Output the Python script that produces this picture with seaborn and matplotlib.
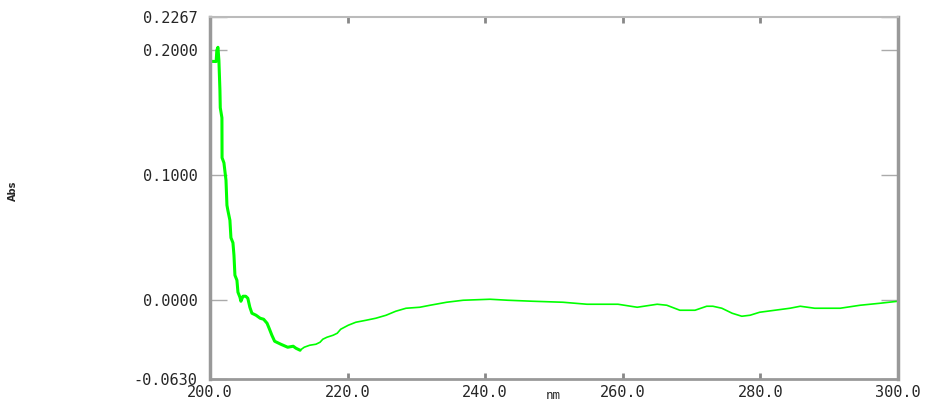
import numpy as np
import pandas as pd
import matplotlib
matplotlib.use("Agg")
import matplotlib.pyplot as plt
import seaborn as sns

# spectrum (wavelength in nm, absorbance)
wavelength = [200.0, 200.9, 201.0, 201.16, 201.3, 201.45, 201.5, 201.74, 201.76, 202.03,
              202.33, 202.47, 202.6, 202.9, 203.05, 203.34, 203.49, 203.63, 203.92, 204.07,
              204.36, 204.5, 204.8, 205.2, 205.5, 205.8, 206.1, 206.7, 207.3, 207.8,
              208.3, 208.6, 209.0, 209.4, 210.3, 211.3, 212.1, 212.5, 213.1, 213.7,
              214.5, 215.4, 216.0, 216.4, 217.0, 217.9, 218.5, 219.0, 220.1, 221.2,
              222.7, 224.1, 225.6, 227.0, 228.5, 230.5, 232.0, 234.4, 236.8, 240.7,
              243.3, 246.9, 251.3, 254.8, 259.3, 262.1, 265.0, 266.4, 268.3, 270.5,
              272.2, 273.1, 274.4, 275.9, 277.3, 278.5, 279.9, 282.1, 284.3, 285.8,
              287.9, 291.6, 294.5, 297.4, 300.0]
absorbance = [0.1912, 0.1910, 0.2000, 0.2024, 0.1920, 0.1680, 0.1540, 0.1460, 0.1140, 0.1100,
              0.0960, 0.0760, 0.0720, 0.0640, 0.0500, 0.0460, 0.0360, 0.0200, 0.0160, 0.0064,
              0.0024, -0.0008, 0.0032, 0.0032, 0.0016, -0.0056, -0.0104, -0.0120, -0.0144, -0.0152,
              -0.0184, -0.0224, -0.0280, -0.0328, -0.0352, -0.0376, -0.0368, -0.0384, -0.0400, -0.0376,
              -0.0360, -0.0352, -0.0336, -0.0312, -0.0296, -0.0280, -0.0264, -0.0232, -0.0200, -0.0176,
              -0.0160, -0.0144, -0.0120, -0.0088, -0.0064, -0.0056, -0.0040, -0.0016, 0.0000, 0.0008,
              0.0000, -0.0008, -0.0016, -0.0032, -0.0032, -0.0056, -0.0032, -0.0040, -0.0080, -0.0080,
              -0.0048, -0.0048, -0.0064, -0.0104, -0.0128, -0.0120, -0.0096, -0.0080, -0.0064, -0.0048,
              -0.0064, -0.0064, -0.0040, -0.0024, -0.0008]

x_ticks = [200.0, 220.0, 240.0, 260.0, 280.0, 300.0]
y_ticks = [-0.0630, 0.0000, 0.1000, 0.2000, 0.2267]

df = pd.DataFrame({"nm": wavelength, "Abs": absorbance})
steep = df[df["nm"] <= 213.1]
flat = df[df["nm"] >= 213.1]

sns.set_style("white")
plt.rcParams["font.family"] = ["DejaVu Sans Mono", "DejaVu Sans"]

fig = plt.figure(figsize=(9.29, 4.03), dpi=100)
ax = fig.add_axes([0.226, 0.0596, 0.7406, 0.8984])

# the steep part of the trace looks heavier in the original
sns.lineplot(data=steep, x="nm", y="Abs", color="#00ff00", linewidth=2.2, ax=ax, sort=False)
sns.lineplot(data=flat, x="nm", y="Abs", color="#00ff00", linewidth=1.2, ax=ax, sort=False)

ax.set_xlim(200, 300)
ax.set_ylim(-0.063, 0.2267)
ax.set_xticks(x_ticks)
ax.set_xticklabels([f"{v:.1f}" for v in x_ticks])
ax.set_yticks(y_ticks)
ax.set_yticklabels([f"{v:.4f}" for v in y_ticks])

ax.tick_params(axis="y", direction="in", length=12, width=1, color="#aaaaaa",
               left=True, right=True, labelright=False, labelsize=11, pad=9)
ax.tick_params(axis="x", direction="in", length=4, width=2, color="#888888",
               bottom=True, top=True, labelsize=11, pad=4)

for side in ["left", "right"]:
    ax.spines[side].set_color("#999999")
    ax.spines[side].set_linewidth(2.5)
ax.spines["bottom"].set_color("#999999")
ax.spines["bottom"].set_linewidth(2)
ax.spines["top"].set_color("#bbbbbb")
ax.spines["top"].set_linewidth(1.5)

ax.set_xlabel("")
ax.set_ylabel("")
# axis titles sit at the very edge of the picture in the original
fig.text(553 / 929, 1 / 403, "nm", fontsize=9, ha="center", va="bottom")
fig.text(13 / 929, 1 - 191 / 403, "Abs", rotation=90, fontsize=7, family="DejaVu Sans",
         fontweight="bold", ha="center", va="center")

fig.savefig("out.png", dpi=100)
